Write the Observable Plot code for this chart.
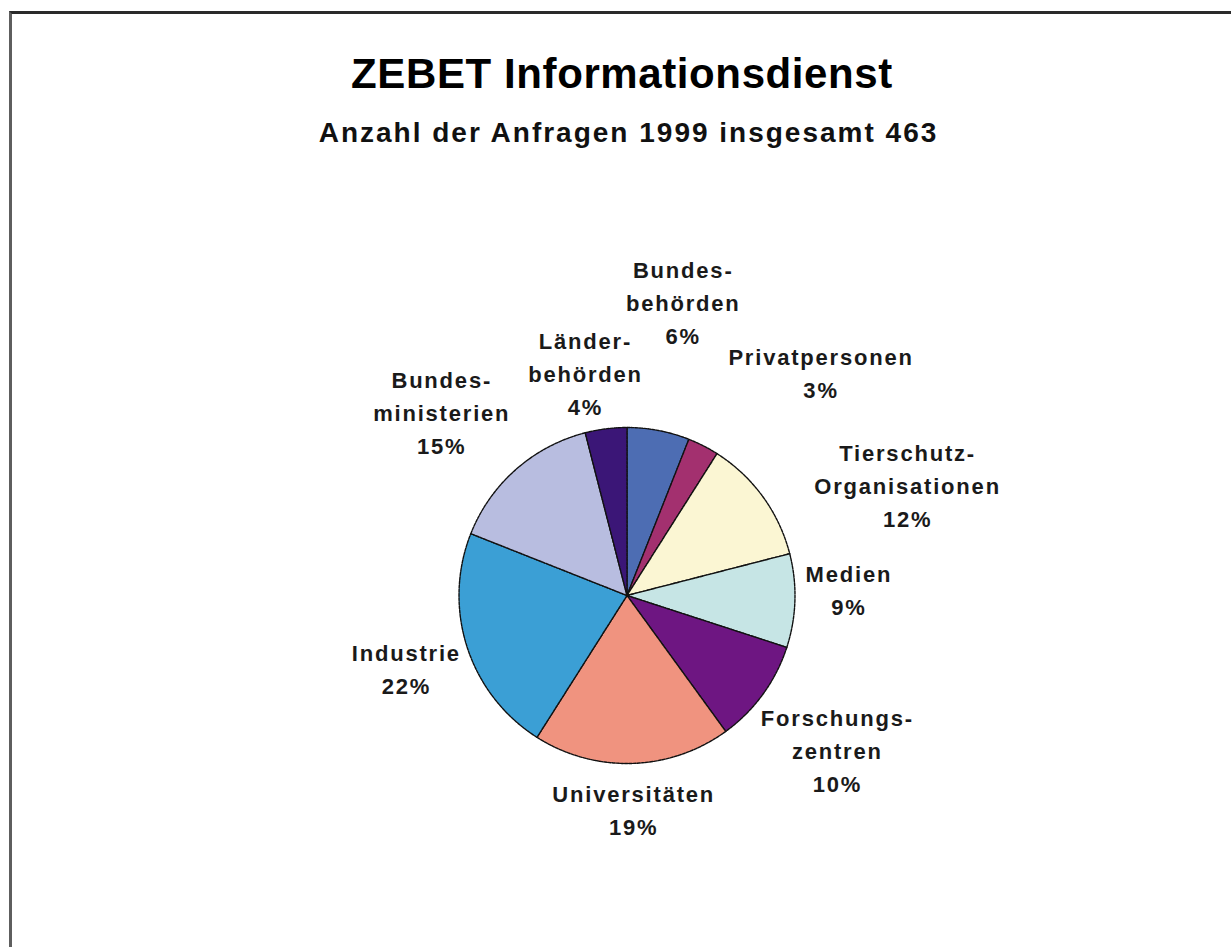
<!DOCTYPE html>
<html>
<head>
<meta charset="utf-8">
<script src="https://cdn.jsdelivr.net/npm/d3@7"></script>
<script src="https://cdn.jsdelivr.net/npm/@observablehq/plot@0.6"></script>
<style>
  html, body { margin: 0; padding: 0; background: #fff; }
  #page { position: relative; width: 1231px; height: 947px; overflow: hidden;
          font-family: "Liberation Sans", Arial, Helvetica, sans-serif; color: #000; }
  #frame { position: absolute; left: 9px; top: 11px; right: -10px; bottom: -10px;
           border-left: 3px solid #5e5e5e; border-top: 3px solid #2a2a2a; }
  #title { position: absolute; left: 10px; width: 1221px; top: 53px; text-align: center;
           font-size: 42px; line-height: 42px; font-weight: bold; letter-spacing: 0.6px;
           padding-left: 3px; box-sizing: border-box; margin: 0; }
  #subtitle { position: absolute; left: 10px; width: 1221px; top: 119px; text-align: center;
              font-size: 28px; line-height: 28px; font-weight: bold; letter-spacing: 2px;
              padding-left: 16px; box-sizing: border-box; margin: 0; color: #111; }
  #chart { position: absolute; left: 0; top: 160px; }
</style>
</head>
<body>
<div id="page">
  <div id="frame"></div>
  <h1 id="title">ZEBET Informationsdienst</h1>
  <h2 id="subtitle">Anzahl der Anfragen 1999 insgesamt 463</h2>
  <div id="chart"></div>
</div>
<script>
// ---- data ----
const categories = ["Bundesbehörden", "Privatpersonen", "Tierschutz-Organisationen", "Medien",
  "Forschungszentren", "Universitäten", "Industrie", "Bundesministerien", "Länderbehörden"];
const shares = [6, 3, 12, 9, 10, 19, 22, 15, 4]; // percent
const labelLines = [["Bundes-", "behörden"], ["Privatpersonen"], ["Tierschutz-", "Organisationen"],
  ["Medien"], ["Forschungs-", "zentren"], ["Universitäten"], ["Industrie"],
  ["Bundes-", "ministerien"], ["Länder-", "behörden"]];

// ---- style / layout ----
const sliceColors = ["#4d6db3", "#a3306f", "#fbf6d3", "#c6e5e5", "#6e1682",
  "#f0937f", "#3b9fd5", "#b8bde0", "#3b1677"];
// label placement: angle (deg clockwise from 12 o'clock, null = slice mid-angle), distance in px from centre
const labelLayout = [
  {angle: null, dist: 300}, {angle: 40.8, dist: 297}, {angle: 68.3, dist: 302},
  {angle: 88, dist: 222}, {angle: null, dist: 260}, {angle: null, dist: 213},
  {angle: null, dist: 232}, {angle: 315, dist: 262}, {angle: 349.5, dist: 228}
];

const W = 1231, H = 780;
const CX = 626.5, CY = 435, R = 168; // pixel frame of the pie

const arcs = d3.pie().sort(null).value(d => d)(shares);

// slice polygons in unit coordinates (radius 1, y up)
const slicePts = [];
arcs.forEach((a, i) => {
  const cat = categories[i];
  slicePts.push({cat, x: 0, y: 0});
  const n = Math.max(2, Math.ceil((a.endAngle - a.startAngle) / (Math.PI / 180)));
  for (let k = 0; k <= n; k++) {
    const t = a.startAngle + (a.endAngle - a.startAngle) * k / n;
    slicePts.push({cat, x: Math.sin(t), y: Math.cos(t)});
  }
});

const labels = arcs.map((a, i) => {
  const L = labelLayout[i];
  const ang = L.angle == null ? (a.startAngle + a.endAngle) / 2 : L.angle * Math.PI / 180;
  const r = L.dist / R;
  return {
    cat: categories[i],
    x: r * Math.sin(ang), y: r * Math.cos(ang),
    text: [...labelLines[i], shares[i] + "%"].join("\n")
  };
});

const chart = Plot.plot({
  width: W, height: H,
  marginTop: 0, marginRight: 0, marginBottom: 0, marginLeft: 0,
  x: {domain: [-CX / R, (W - CX) / R], axis: null},
  y: {domain: [-(H - CY) / R, CY / R], axis: null},
  color: {type: "ordinal", domain: categories, range: sliceColors},
  style: {background: "transparent", letterSpacing: "1.8px", overflow: "visible"},
  marks: [
    Plot.line(slicePts, {x: "x", y: "y", z: "cat", fill: "cat", stroke: "#111",
      strokeWidth: 1.4, strokeDasharray: "3,1.2", curve: "linear-closed"}),
    Plot.text(labels, {x: "x", y: "y", text: "text", fontSize: 22, fontWeight: "bold",
      lineHeight: 1.5, fill: "#1a1a1a",
      fontFamily: "'Liberation Sans', Arial, Helvetica, sans-serif"})
  ]
});
document.getElementById("chart").appendChild(chart);
</script>
</body>
</html>
